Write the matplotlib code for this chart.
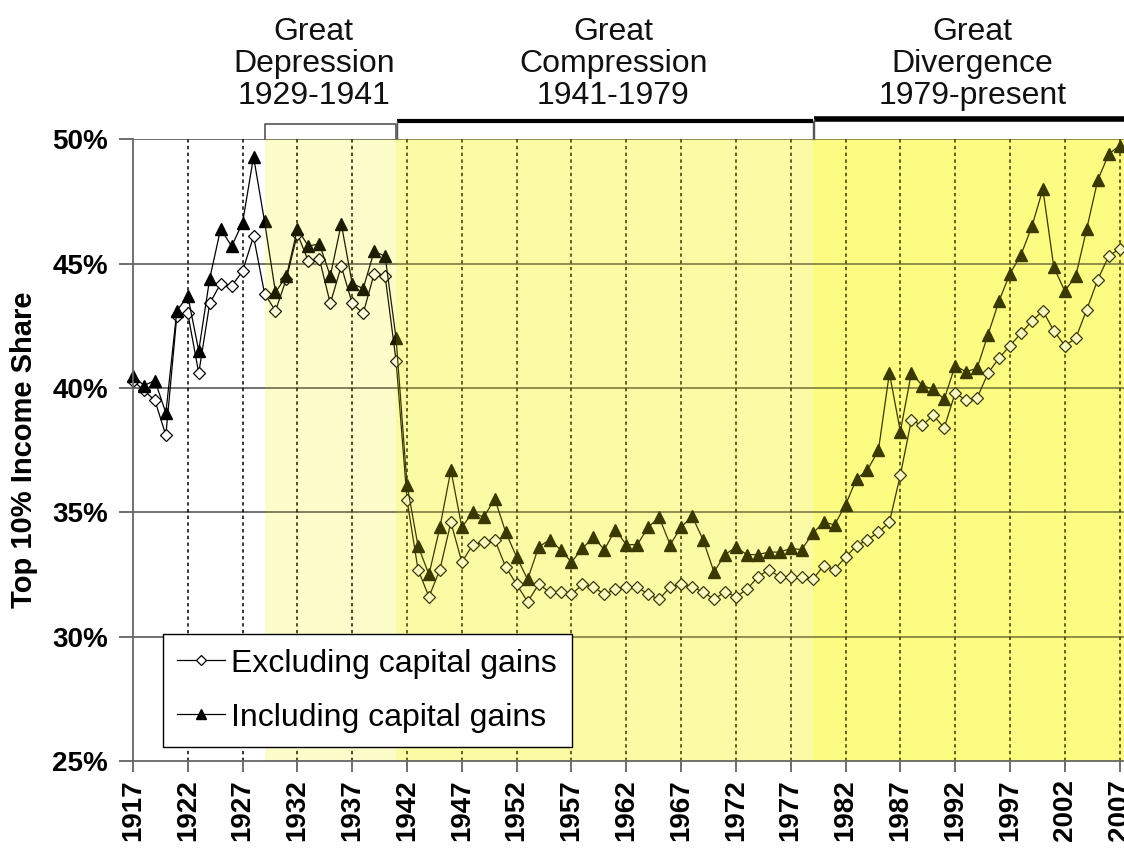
import matplotlib
matplotlib.use("Agg")
import matplotlib.pyplot as plt
from matplotlib.lines import Line2D
import matplotlib.transforms as mtransforms

plt.rcParams['font.family'] = ['Liberation Sans', 'DejaVu Sans']

years = list(range(1917, 2008))

excluding = [
    40.3, 39.9, 39.5, 38.1, 42.9, 43.0, 40.6, 43.4, 44.2, 44.1,   # 1917-1926
    44.7, 46.1, 43.8, 43.1, 44.4, 46.2, 45.1, 45.2, 43.4, 44.9,   # 1927-1936
    43.4, 43.0, 44.6, 44.5, 41.1, 35.5, 32.7, 31.6, 32.7, 34.6,   # 1937-1946
    33.0, 33.7, 33.8, 33.9, 32.8, 32.1, 31.4, 32.1, 31.8, 31.8,   # 1947-1956
    31.7, 32.1, 32.0, 31.7, 31.9, 32.0, 32.0, 31.7, 31.5, 32.0,   # 1957-1966
    32.1, 32.0, 31.8, 31.5, 31.8, 31.6, 31.9, 32.4, 32.7, 32.4,   # 1967-1976
    32.4, 32.4, 32.3, 32.85, 32.7, 33.2, 33.65, 33.9, 34.2, 34.6, # 1977-1986
    36.5, 38.7, 38.5, 38.9, 38.4, 39.8, 39.5, 39.6, 40.6, 41.2,   # 1987-1996
    41.7, 42.2, 42.7, 43.1, 42.3, 41.7, 42.0, 43.15, 44.35, 45.3, # 1997-2006
    45.6,                                                         # 2007
]

including = [
    40.5, 40.1, 40.3, 39.0, 43.1, 43.7, 41.5, 44.4, 46.4, 45.7,   # 1917-1926
    46.65, 49.3, 46.7, 43.85, 44.5, 46.4, 45.7, 45.8, 44.5, 46.6, # 1927-1936
    44.2, 44.0, 45.5, 45.3, 42.0, 36.1, 33.65, 32.5, 34.4, 36.7,  # 1937-1946
    34.4, 35.0, 34.8, 35.55, 34.2, 33.2, 32.3, 33.6, 33.9, 33.5,  # 1947-1956
    33.0, 33.55, 34.0, 33.5, 34.3, 33.7, 33.7, 34.4, 34.8, 33.7,  # 1957-1966
    34.4, 34.85, 33.9, 32.6, 33.3, 33.6, 33.3, 33.3, 33.4, 33.4,  # 1967-1976
    33.55, 33.5, 34.15, 34.6, 34.5, 35.3, 36.35, 36.7, 37.5, 40.6, # 1977-1986
    38.25, 40.6, 40.1, 39.95, 39.55, 40.9, 40.65, 40.8, 42.15, 43.5, # 1987-1996
    44.6, 45.35, 46.5, 48.0, 44.85, 43.9, 44.5, 46.4, 48.35, 49.4, # 1997-2006
    49.75,                                                        # 2007
]

xtick_years = list(range(1917, 2008, 5))
ytick_vals = [25, 30, 35, 40, 45, 50]
ytick_labels = ["25%", "30%", "35%", "40%", "45%", "50%"]

periods = [
    (1929, 1941, "Great", "Depression", "1929-1941", 1933.5),
    (1941, 1979, "Great", "Compression", "1941-1979", 1960.8),
    (1979, 2007.4, "Great", "Divergence", "1979-present", 1993.6),
]
band_under = ['#FFFFE9', '#FFFFD9', '#FFFFAB']
band_top_alpha = [0.12, 0.24, 0.24]
overlay_color = '#F5F000'

fig = plt.figure(figsize=(11.24, 8.48), dpi=100)
ax = fig.add_axes([0.1183, 0.1026, 0.8817, 0.7331])

ax.set_xlim(1917, 2007.4)
ax.set_ylim(25, 50)

# under bands
for (x0, x1, *_), c in zip(periods, band_under):
    ax.axvspan(x0, x1, facecolor=c, lw=0, zorder=0.5)

# grid
for y in ytick_vals[1:]:
    ax.axhline(y, color='#4a4a4a', lw=1.1, zorder=1)
for x in xtick_years[1:]:
    ax.axvline(x, color='black', lw=1.1, ls=(0, (2.2, 2.2)), zorder=1)

# data
ax.plot(years, excluding, color='black', lw=0.9, marker='D', markersize=6.5,
        markerfacecolor='white', markeredgecolor='black', markeredgewidth=0.9,
        zorder=3, clip_on=False, label='Excluding capital gains')
ax.plot(years, including, color='black', lw=0.9, marker='^', markersize=8.5,
        markerfacecolor='black', markeredgecolor='black',
        zorder=4, clip_on=False, label='Including capital gains')

# tinted overlay
for (x0, x1, *_), a in zip(periods, band_top_alpha):
    ax.axvspan(x0, x1, facecolor=overlay_color, alpha=a, lw=0, zorder=6)

# ticks
ax.set_xticks(xtick_years)
ax.set_xticklabels([str(y) for y in xtick_years], rotation=90, fontweight='bold', fontsize=20)
ax.set_yticks(ytick_vals)
ax.set_yticklabels(ytick_labels, fontweight='bold', fontsize=20)
ax.tick_params(axis='y', length=10, width=1.2, color='#555555', pad=8)
ax.tick_params(axis='x', length=8, width=1.2, color='#555555', pad=5)

for s in ['top', 'right']:
    ax.spines[s].set_visible(False)
for s in ['left', 'bottom']:
    ax.spines[s].set_color('#666666')
    ax.spines[s].set_linewidth(1.3)
    ax.spines[s].set_zorder(7)

ax.set_ylabel('Top 10% Income Share', fontweight='bold', fontsize=21, labelpad=10)

# legend
leg = ax.legend(loc='lower left', bbox_to_anchor=(0.030, 0.0225), fontsize=23,
                frameon=True, fancybox=False, edgecolor='black', framealpha=1,
                handlelength=1.5, handletextpad=0.2, labelspacing=0.75,
                borderpad=0.45, borderaxespad=0, markerscale=0.8)
leg.get_frame().set_linewidth(1.0)
leg.set_zorder(10)

# period brackets and labels
trans = mtransforms.blended_transform_factory(ax.transData, ax.transAxes)
ax.add_line(Line2D([1929, 1929, 1941, 1941], [1.0, 1.025, 1.025, 1.0],
                   transform=trans, color='#555555', lw=1.2, clip_on=False))
ax.add_line(Line2D([1941.1, 1979], [1.029, 1.029], transform=trans,
                   color='black', lw=3.0, clip_on=False, solid_capstyle='butt'))
ax.add_line(Line2D([1941.1, 1941.1], [1.0, 1.029], transform=trans,
                   color='#555555', lw=1.0, clip_on=False))
ax.add_line(Line2D([1979, 1979], [1.0, 1.029], transform=trans,
                   color='#555555', lw=1.0, clip_on=False))
ax.add_line(Line2D([1979.1, 2007.4], [1.032, 1.032], transform=trans,
                   color='black', lw=4.0, clip_on=False, solid_capstyle='butt'))
ax.add_line(Line2D([1979.1, 1979.1], [1.0, 1.032], transform=trans,
                   color='#555555', lw=1.0, clip_on=False))

for (x0, x1, l1, l2, l3, xc) in periods:
    for txt, yy in zip([l1, l2, l3], [1.1600, 1.1090, 1.0570]):
        ax.text(xc, yy, txt, transform=trans, ha='center', va='baseline',
                fontsize=23, color='#111111')

fig.savefig('out.png', dpi=100)
